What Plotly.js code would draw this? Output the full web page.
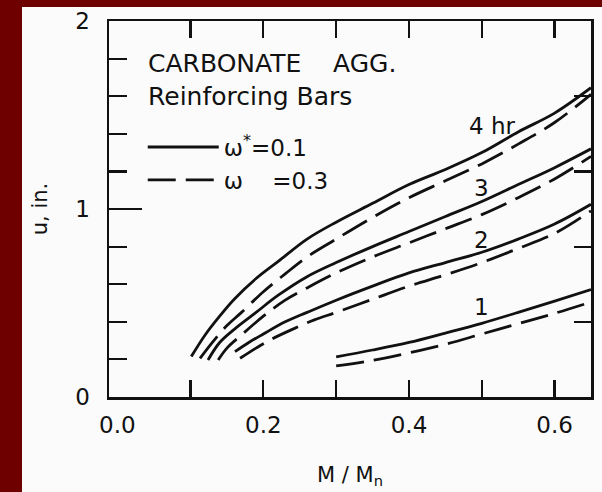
<!DOCTYPE html>
<html>
<head>
<meta charset="utf-8">
<script src="https://cdn.plot.ly/plotly-3.0.1.min.js"></script>
<style>
html,body{margin:0;padding:0;background:#6e0000;width:602px;height:492px;overflow:hidden;}
#chart{position:absolute;left:22px;top:7px;width:580px;height:485px;background:#fbfbfb;}
</style>
</head>
<body>
<div id="chart"></div>
<script>
// ---- data (M/Mn vs u, in.) ----
const x4s = [0.101, 0.12, 0.14, 0.16, 0.19, 0.22, 0.26, 0.30, 0.35, 0.40, 0.45, 0.50, 0.55, 0.60, 0.65];
const y4s = [0.215, 0.33, 0.43, 0.52, 0.63, 0.72, 0.84, 0.93, 1.03, 1.13, 1.21, 1.30, 1.41, 1.51, 1.645];
const x4d = [0.113, 0.13, 0.15, 0.17, 0.20, 0.23, 0.26, 0.30, 0.35, 0.40, 0.45, 0.50, 0.55, 0.60, 0.65];
const y4d = [0.205, 0.29, 0.38, 0.45, 0.56, 0.655, 0.745, 0.84, 0.955, 1.06, 1.15, 1.24, 1.345, 1.46, 1.61];
const x3s = [0.124, 0.14, 0.16, 0.19, 0.22, 0.26, 0.30, 0.35, 0.40, 0.45, 0.50, 0.55, 0.60, 0.65];
const y3s = [0.197, 0.29, 0.36, 0.45, 0.54, 0.64, 0.715, 0.80, 0.88, 0.96, 1.04, 1.13, 1.22, 1.32];
const x3d = [0.138, 0.15, 0.17, 0.20, 0.23, 0.26, 0.30, 0.35, 0.40, 0.45, 0.50, 0.55, 0.60, 0.65];
const y3d = [0.197, 0.26, 0.33, 0.43, 0.515, 0.58, 0.66, 0.745, 0.82, 0.895, 0.97, 1.06, 1.16, 1.28];
const x2s = [0.161, 0.18, 0.20, 0.23, 0.26, 0.30, 0.35, 0.40, 0.45, 0.50, 0.55, 0.60, 0.65];
const y2s = [0.241, 0.29, 0.335, 0.40, 0.45, 0.515, 0.59, 0.66, 0.715, 0.77, 0.84, 0.92, 1.025];
const x2d = [0.168, 0.19, 0.21, 0.24, 0.27, 0.30, 0.35, 0.40, 0.45, 0.50, 0.55, 0.60, 0.65];
const y2d = [0.206, 0.26, 0.305, 0.36, 0.41, 0.45, 0.52, 0.59, 0.65, 0.715, 0.79, 0.87, 0.99];
const x1s = [0.30, 0.35, 0.40, 0.45, 0.50, 0.55, 0.60, 0.65];
const y1s = [0.214, 0.25, 0.29, 0.34, 0.392, 0.45, 0.51, 0.572];
const x1d = [0.30, 0.35, 0.40, 0.45, 0.50, 0.55, 0.60, 0.65];
const y1d = [0.165, 0.195, 0.235, 0.28, 0.335, 0.39, 0.445, 0.505];

const curveLabels = ['4 hr', '3', '2', '1'];
const legendNames = ['\u03c9<sup>*</sup>=0.1', '\u03c9\u00a0\u00a0\u00a0\u00a0=0.3'];
const xZeroLabel = '0.0';
const xTickVals = [0.2, 0.4, 0.6];
const xTickText = ['0.2', '0.4', '0.6'];
const xMinorTicks = [0.1, 0.3, 0.5];
const yTickVals = [0, 1, 2];
const yTickText = ['0', '1', '2'];
const yMinorTicks = [0.2, 0.4, 0.6, 0.8, 1.2, 1.4, 1.6, 1.8];
const yRightTicks = [0.4, 0.8, 1.2, 1.6];

const XR = [-0.012, 0.65];
const YR = [0, 2];
const FONT = 'DejaVu Sans, Verdana, sans-serif';
const INK = '#111';
const LW = 2.8;
const DASH = '28px,10px';

function tr(x, y, dashed, xa, ya, name, show) {
  return {
    x: x, y: y, type: 'scatter', mode: 'lines', xaxis: xa, yaxis: ya,
    line: {color: INK, width: LW, dash: dashed ? DASH : 'solid', shape: 'spline', smoothing: 1},
    name: name || 'curve', showlegend: !!show, hoverinfo: 'skip'
  };
}

const data = [
  tr(x4s, y4s, false, 'x', 'y', legendNames[0], true),
  tr(x4d, y4d, true, 'x', 'y', legendNames[1], true),
  tr(x3s, y3s, false, 'x', 'y'), tr(x3d, y3d, true, 'x', 'y'),
  tr(x2s, y2s, false, 'x', 'y'), tr(x2d, y2d, true, 'x', 'y'),
  tr(x1s, y1s, false, 'x2', 'y2'), tr(x1d, y1d, true, 'x2', 'y2')
];

const layout = {
  width: 580, height: 485,
  margin: {l: 87, r: 11, t: 14, b: 95},
  paper_bgcolor: '#fbfbfb',
  plot_bgcolor: '#fbfbfb',
  font: {family: FONT, color: INK, size: 22},
  showlegend: true,
  legend: {
    x: 0.070, y: 0.722, xanchor: 'left', yanchor: 'top',
    bgcolor: 'rgba(0,0,0,0)', font: {size: 23, family: FONT},
    itemwidth: 71, tracegroupgap: 0
  },
  xaxis: {
    range: XR, tickmode: 'array', tickvals: xTickVals, ticktext: xTickText,
    ticks: 'inside', ticklen: 17, tickwidth: 2.2, tickcolor: INK,
    minor: {tickmode: 'array', tickvals: xMinorTicks, ticks: 'inside', ticklen: 17, tickwidth: 2.2, tickcolor: INK, showgrid: false},
    showgrid: false, zeroline: false,
    showline: true, mirror: 'ticks', linecolor: INK, linewidth: 2.5,
    tickfont: {size: 23}, ticklabelstandoff: 6,
    title: {text: 'M / M<sub>n</sub>', font: {size: 21}, standoff: 30}
  },
  xaxis2: {
    range: XR, overlaying: 'x', anchor: 'y', side: 'bottom', ticks: '',
    showticklabels: false, showgrid: false, zeroline: false, showline: false
  },
  yaxis: {
    range: YR, tickmode: 'array', tickvals: yTickVals, ticktext: yTickText,
    ticks: 'inside', ticklen: 33, tickwidth: 2.2, tickcolor: INK,
    minor: {tickmode: 'array', tickvals: yMinorTicks, ticks: 'inside', ticklen: 18, tickwidth: 2.2, tickcolor: INK, showgrid: false},
    showgrid: false, zeroline: false,
    showline: true, mirror: true, linecolor: INK, linewidth: 2.5,
    tickfont: {size: 23}, ticklabelstandoff: 12,
    title: {text: 'u, in.', font: {size: 21}, standoff: 22}
  },
  yaxis2: {
    range: YR, overlaying: 'y', anchor: 'x', side: 'right',
    tickmode: 'array', tickvals: yRightTicks, ticks: 'inside', ticklen: 17, tickwidth: 2.2, tickcolor: INK,
    showticklabels: false, showgrid: false, zeroline: false, showline: false
  },
  annotations: [
    {x: 0, xref: 'x', yref: 'paper', y: 0, yshift: -28, xanchor: 'center', yanchor: 'middle',
     text: xZeroLabel, showarrow: false, font: {size: 23}},
    {xref: 'paper', yref: 'paper', x: 0.077, y: 0.886, xanchor: 'left', yanchor: 'middle',
     text: 'CARBONATE\u00a0\u00a0\u00a0\u00a0AGG.', showarrow: false, font: {size: 25}},
    {xref: 'paper', yref: 'paper', x: 0.077, y: 0.798, xanchor: 'left', yanchor: 'middle',
     text: 'Reinforcing Bars', showarrow: false, font: {size: 25}},
    {x: 0.515, y: 1.44, text: curveLabels[0], showarrow: false, font: {size: 23}},
    {x: 0.499, y: 1.11, text: curveLabels[1], showarrow: false, font: {size: 23}},
    {x: 0.499, y: 0.835, text: curveLabels[2], showarrow: false, font: {size: 23}},
    {x: 0.500, y: 0.48, text: curveLabels[3], showarrow: false, font: {size: 23}}
  ]
};

Plotly.newPlot('chart', data, layout, {staticPlot: true, displayModeBar: false});
</script>
</body>
</html>
